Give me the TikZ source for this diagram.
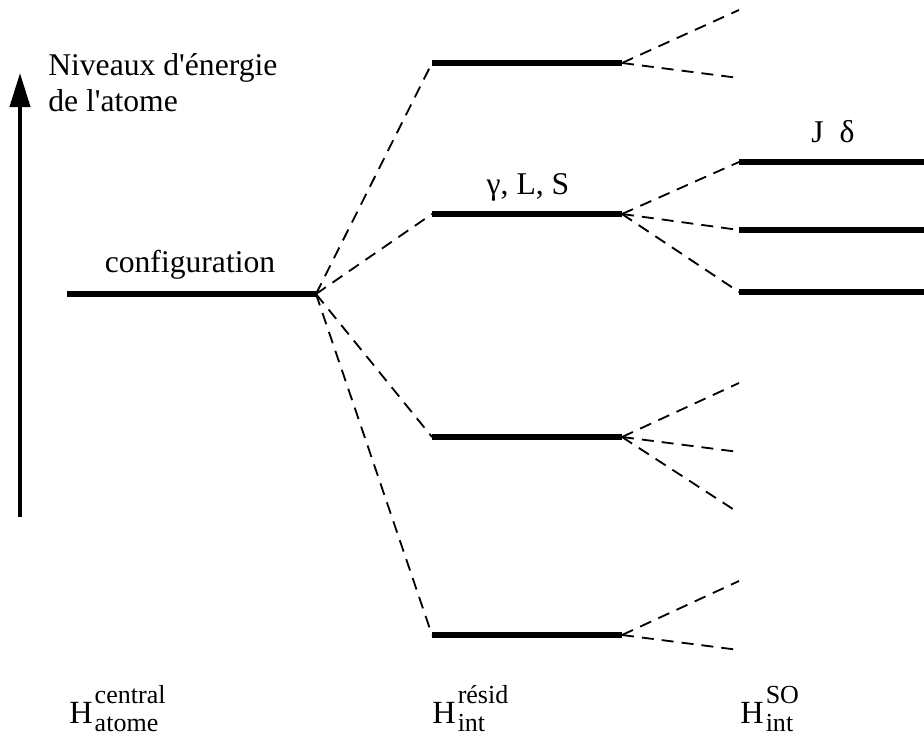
\documentclass[tikz,border=0pt]{standalone}
\usepackage{fontspec}
\setmainfont{Liberation Serif}
\usetikzlibrary{arrows.meta}

\newcommand{\hop}[2]{{\fontsize{23}{23}\selectfont H}\kern1.5pt\raisebox{-5.7pt}[\height][0pt]{\fontsize{18.5}{19.9}\selectfont\begin{tabular}[b]{@{}l@{}}#1\\#2\end{tabular}}}

\begin{document}
\begin{tikzpicture}[x=0.025cm,y=-0.025cm,
    level/.style={line width=4.2pt},
    split/.style={dash pattern=on 0.3cm off 0.2cm,line width=1.3pt},
    lbl/.style={font=\fontsize{22.5}{26.3}\selectfont,inner sep=0pt}] %
    \useasboundingbox (0,0) rectangle (924,740);
    % axe des energies
    \coordinate (axbot) at (20,517);
    \coordinate (axtop) at (20,73);
    \draw[line width=2.8pt,-{Triangle[length=8.5mm,width=5mm]}] (axbot)--(axtop);
    \node[lbl,anchor=base west,align=left] (axis) at (48,112) {Niveaux d\textquotesingle énergie\\de l\textquotesingle atome};
    % configuration
    \coordinate (cfgL) at (67,294);
    \coordinate (cfgR) at (316,294);
    \draw[level] (cfgL)--(cfgR);
    \node[lbl,anchor=base] (cfg) at (190,273) {configuration};
    % termes
    \coordinate (r1L) at (432,63);  \coordinate (r1R) at (622,63);
    \coordinate (r2L) at (432,214); \coordinate (r2R) at (622,214);
    \coordinate (r3L) at (432,437); \coordinate (r3R) at (622,437);
    \coordinate (r4L) at (432,635); \coordinate (r4R) at (622,635);
    \draw[level] (r1L)--(r1R);
    \draw[level] (r2L)--(r2R);
    \draw[level] (r3L)--(r3R);
    \draw[level] (r4L)--(r4R);
    \node[lbl,anchor=base] (gls) at (528,195) {γ, L, S};
    \draw[split] (cfgR)--(r1L);
    \draw[split] (cfgR)--(r2L);
    \draw[split] (cfgR)--(r3L);
    \draw[split] (cfgR)--(r4L);
    % niveaux J
    \coordinate (s1L) at (739,162); \coordinate (s1R) at (924,162);
    \coordinate (s2L) at (739,230); \coordinate (s2R) at (924,230);
    \coordinate (s3L) at (739,292); \coordinate (s3R) at (924,292);
    \draw[level] (s1L)--(s1R);
    \draw[level] (s2L)--(s2R);
    \draw[level] (s3L)--(s3R);
    \node[lbl,anchor=base] (jd) at (833,143) {J\ \ δ};
    \draw[split] (r2R)--(s1L);
    \draw[split] (r2R)--(s2L);
    \draw[split] (r2R)--(s3L);
    \coordinate (t1a) at (739,10);  \coordinate (t1b) at (739,78);
    \coordinate (t3a) at (739,383); \coordinate (t3b) at (739,452); \coordinate (t3c) at (739,513);
    \coordinate (t4a) at (739,581); \coordinate (t4b) at (739,650);
    \draw[split] (r1R)--(t1a);
    \draw[split] (r1R)--(t1b);
    \draw[split] (r3R)--(t3a);
    \draw[split] (r3R)--(t3b);
    \draw[split] (r3R)--(t3c);
    \draw[split] (r4R)--(t4a);
    \draw[split] (r4R)--(t4b);
    % hamiltoniens
    \node[anchor=base west,inner sep=0pt] (hcen) at (69,723) {\hop{central}{atome}};
    \node[anchor=base west,inner sep=0pt] (hres) at (432,723) {\hop{résid}{int}};
    \node[anchor=base west,inner sep=0pt] (hso) at (740,723) {\hop{SO}{int}};
  \end{tikzpicture}
\end{document}
